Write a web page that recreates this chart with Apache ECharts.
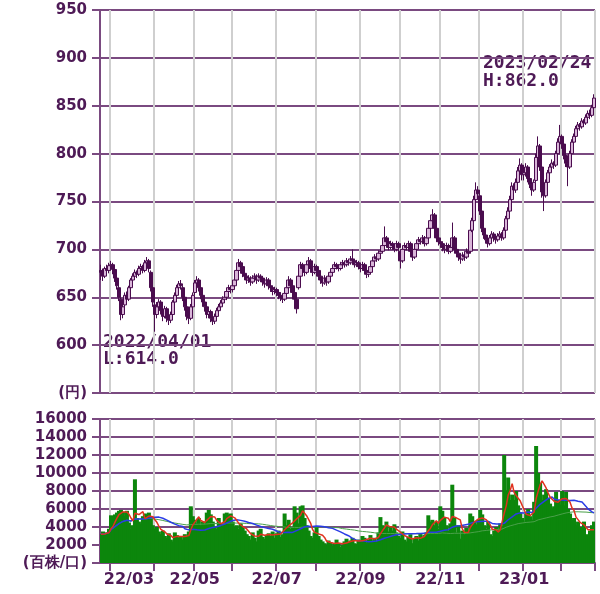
<!DOCTYPE html>
<html><head><meta charset="utf-8">
<script src="https://cdn.jsdelivr.net/npm/echarts@6/dist/echarts.min.js"></script>
<style>html,body{margin:0;padding:0;background:#fff}#c{width:600px;height:594px}</style>
</head><body><div id="c"></div>
<script>
// Trading calendar (Tokyo), 2022/02/21 - 2023/02/24
const startDate = [2022, 2, 21];
const endDate = [2023, 2, 24];
const holidays = ['2022/02/23','2022/03/21','2022/04/29','2022/05/03','2022/05/04','2022/05/05','2022/07/18','2022/08/11','2022/09/19','2022/09/23','2022/10/10','2022/11/03','2022/11/23','2023/01/02','2023/01/03','2023/01/09','2023/02/23'];

// Daily candles: [open, close, low, high] (円)
const ohlc = [
[678,676,668,684],[676,672,667,680],[672,680,670,682],[680,678,674,684],[678,683,675,686],
[683,684,678,688],[684,679,674,686],[679,670,666,681],[670,662,658,672],[660,650,646,664],
[648,632,626,650],[632,640,628,644],[642,652,638,655],[652,648,644,656],[648,660,646,662],
[660,668,657,670],[668,672,664,675],[672,676,669,679],[676,674,670,678],[674,680,672,683],
[680,682,677,685],[682,678,675,684],[678,686,676,689],[686,688,682,692],[688,680,676,690],
[676,660,656,678],[660,645,640,662],[642,632,614,646],[632,640,628,645],[640,645,636,648],
[645,636,632,647],[636,630,625,638],[630,638,628,641],[638,628,624,640],[628,626,621,632],
[626,632,623,635],[632,645,630,647],[645,652,642,655],[652,660,649,663],[660,664,656,667],
[664,662,658,668],[660,650,646,662],[650,640,636,652],[640,630,626,642],[630,628,622,634],
[628,640,626,643],[640,652,638,655],[655,665,652,668],[665,668,661,672],[668,660,656,670],
[660,652,648,662],[652,645,640,654],[645,640,635,648],[640,632,628,642],[632,635,628,638],
[635,628,624,637],[628,625,621,631],[625,630,622,633],[630,636,628,639],[636,640,633,643],
[640,644,637,647],[644,648,641,651],[648,650,645,654],[650,656,647,659],[656,660,652,663],
[660,658,654,662],[658,662,655,665],[662,668,659,671],[668,678,666,681],[678,686,675,690],
[686,682,678,688],[682,675,671,684],[675,672,668,677],[672,668,664,674],[668,670,665,673],
[670,666,662,672],[666,670,664,673],[670,672,667,675],[672,668,664,674],[668,672,666,675],
[672,670,666,674],[670,666,662,672],[666,664,660,668],[664,668,662,671],[668,662,658,670],
[662,660,656,664],[660,656,652,662],[656,658,653,661],[658,655,651,660],[655,652,648,657],
[652,650,646,655],[650,648,644,652],[648,654,646,657],[654,660,652,663],[660,668,658,672],
[668,662,658,670],[662,655,651,664],[655,648,644,657],[648,638,633,650],[660,672,658,675],
[672,684,670,687],[684,680,676,686],[680,676,672,682],[676,684,674,687],[684,688,681,692],
[688,680,676,690],[680,676,672,682],[676,682,674,685],[682,678,674,684],[678,672,668,680],
[672,668,664,674],[668,665,661,670],[665,670,663,673],[670,666,662,672],[666,672,664,675],
[672,676,670,679],[676,680,674,683],[680,684,678,687],[684,682,679,686],[682,680,677,684],
[680,684,678,687],[684,686,681,689],[686,684,681,688],[684,688,682,691],[688,686,683,690],
[686,690,684,693],[690,688,685,700],[688,684,681,690],[684,686,682,689],[686,682,679,688],
[682,680,676,684],[680,684,678,687],[684,678,675,686],[678,674,670,680],[674,676,671,679],
[676,682,674,685],[682,688,680,691],[688,692,686,695],[692,690,687,694],[690,696,688,699],
[696,698,694,701],[698,704,696,708],[704,712,702,724],[712,708,704,714],[708,702,699,710],
[702,706,700,709],[706,704,700,708],[704,700,697,706],[700,706,698,709],[706,702,698,708],
[698,688,680,700],[688,700,686,703],[700,704,698,707],[704,702,699,706],[702,706,700,709],
[706,698,695,708],[698,692,688,700],[692,700,690,703],[700,706,698,709],[706,710,704,713],
[710,708,705,712],[708,712,706,715],[712,706,703,714],[706,712,704,715],[712,722,710,725],
[722,730,720,734],[730,736,727,742],[736,722,719,738],[722,712,708,724],[712,708,704,714],
[708,706,702,710],[706,702,698,708],[702,700,696,704],[700,704,698,707],[704,698,695,706],
[698,702,696,705],[702,712,700,728],[712,700,696,714],[700,696,692,702],[696,692,688,698],
[692,690,685,694],[690,694,688,697],[694,692,688,696],[692,698,690,701],[698,696,692,700],
[698,720,696,722],[720,730,718,733],[730,752,728,756],[752,762,748,770],[762,758,752,766],
[756,740,736,760],[740,722,718,742],[722,715,711,724],[715,710,706,717],[710,706,702,712],
[706,712,704,715],[712,716,709,719],[716,712,708,718],[712,710,706,714],[710,714,708,717],
[714,716,711,719],[716,712,709,718],[712,720,710,723],[720,732,718,735],[732,740,729,744],
[740,752,738,756],[752,766,750,770],[766,762,757,769],[762,770,759,774],[770,782,768,786],
[782,788,778,795],[788,778,772,790],[778,780,772,784],[780,786,776,790],[786,774,770,788],
[774,768,764,776],[768,762,756,770],[762,770,760,773],[772,796,770,800],[796,808,792,818],
[808,786,782,810],[786,760,754,788],[760,756,740,762],[756,770,754,773],[770,780,768,783],
[780,786,778,789],[786,790,783,794],[790,788,784,792],[788,800,786,803],[800,812,798,816],
[812,818,808,830],[818,810,805,820],[810,798,794,812],[798,790,786,800],[790,786,766,792],
[786,800,784,803],[800,812,798,815],[812,818,810,821],[818,826,815,829],[826,830,822,833],
[830,828,824,832],[828,834,826,837],[834,832,828,836],[832,838,830,841],[838,842,835,845],
[842,840,836,846],[840,848,838,851],[848,858,846,862]
];

// Daily volume (百株)
const volume = [
3200,3500,3000,3400,3800, 5300,4800,5400, 5600,5800,5900,5700,5200,5800, 4500,3800,4200, 9300,
5000,4600,4400,5200, 5500,5400,5600,5000, 4200,3800,4000,3500,3200,3600,
3000,2800,3300,2600,2400,3400,3100, 2800,3000,2600,3200,2900,3500, 6300,5200,4800,
4400,5000,4200,4600,4300, 5600,5900,5400, 4600,4000,3800,5000,4400,4200,
5500,5600,5400,5500,4600, 4000,4200,3800,4400,3900,3600,
3200,3000,2600,3400,2800,2400,3600,3800,2900,2700,3100,3300,
3000,3500,2800,3300,3600,2900,3200, 5500,4200,4800, 3800,4000, 6300,5600, 4400,
6300,6400,5000, 4200,3600,3000,2800,3400, 4000,
3000,2600,2400,2200,2000,2500,2300,1900,2100,2600,2200,1800,2000,2400,2700,
2300,2500,2800,2200,2100,2600,
2400,3000,2800,2300,2600,3100,2500,2800,2400,3400, 5100,
4200,3800,4600,3500,4000,3600,4300,3400,
3000,2800,3500,2600,2400,2900,3200,2200,2700,3000,2500,3300,2800,3100,3400,
5300,4600,4800,4200, 4600,3800, 6300,5800,5000, 4200,3600, 4400,8700,5000,
3400,4200,2700,3600,3200,3900,3500, 5500,5200,4600, 4300,4800, 5900,5400,4200,
3800,4600,3200,3000,3600,4000,3400,4400,3800,
12000,8000, 9500,7000,7600, 7000,8000,6400,5600,5000,
4600,5500,6000,5200,4800, 6800, 13000, 10000, 8900,7000,7600, 8200,7200,6600,6000,
6300,7900,7000,6500,8000,6400,7900,6000, 5500,4800,5000,4200,4600,4000,
3800,4600,3200,2900,3600,4200,4600
];

const priceTicks = { min: 550, max: 950, step: 50 };
const volTicks = { min: 0, max: 16000, step: 2000 };
const labeledMonths = [1, 3, 5, 7, 9, 11];
const annHigh = ['2023/02/24', 'H:862.0'];
const annLow = ['2022/04/01', 'L:614.0'];

function pad(n){return (n<10?'0':'')+n;}
const dates = [];
(function(){
  const d = new Date(startDate[0], startDate[1]-1, startDate[2]);
  const e = new Date(endDate[0], endDate[1]-1, endDate[2]);
  while (d <= e) {
    const s = d.getFullYear()+'/'+pad(d.getMonth()+1)+'/'+pad(d.getDate());
    const wd = d.getDay();
    if (wd !== 0 && wd !== 6 && holidays.indexOf(s) < 0) dates.push(s);
    d.setDate(d.getDate()+1);
  }
})();

function isMonthStart(i){ return i > 0 && dates[i] && dates[i-1] && dates[i].slice(5,7) !== dates[i-1].slice(5,7); }
function ma(arr, n){
  return arr.map(function(v, i){
    const s = Math.max(0, i-n+1); let t = 0;
    for (let k=s;k<=i;k++) t += arr[k];
    return Math.round(t/(i-s+1));
  });
}

const PURPLE = '#7a4a80';
const TXT = '#4e1a56';
const GRAY = '#cfcfcf';
const FONT = {color: TXT, fontFamily: 'DejaVu Sans', fontWeight: 'bold', fontSize: 15};

const chart = echarts.init(document.getElementById('c'), null, {renderer: 'canvas'});
chart.setOption({
  animation: false,
  backgroundColor: '#fff',
  grid: [
    {left: 100, right: 5, top: 10, height: 383, show: true, borderColor: PURPLE, borderWidth: 1},
    {left: 100, right: 5, top: 419, height: 144, show: true, borderColor: PURPLE, borderWidth: 1}
  ],
  xAxis: [
    {type: 'category', gridIndex: 0, data: dates, boundaryGap: true,
     axisLine: {show: false}, axisTick: {show: false}, axisLabel: {show: false},
     splitLine: {show: true, interval: function(i){return isMonthStart(i);}, lineStyle: {color: GRAY, width: 2}}},
    {type: 'category', gridIndex: 1, data: dates, boundaryGap: true,
     axisLine: {show: true, lineStyle: {color: PURPLE, width: 2}},
     axisTick: {show: true, interval: function(i){return isMonthStart(i);}, length: 8, lineStyle: {color: PURPLE, width: 2}},
     axisLabel: Object.assign({}, FONT, {
       fontSize: 16, margin: 9,
       interval: function(i){ return isMonthStart(i) && labeledMonths.indexOf(+dates[i].slice(5,7)) >= 0; },
       formatter: function(v){
         const s = v.slice(2,4)+'/'+v.slice(5,7);
         if (v.slice(0,7) === '2022/03') return '{f|'+s+'}';
         return s;
       },
       rich: {f: Object.assign({}, FONT, {fontSize: 16, padding: [0,0,0,36]})}
     }),
     splitLine: {show: true, interval: function(i){return isMonthStart(i);}, lineStyle: {color: GRAY, width: 2}}}
  ],
  yAxis: [
    {type: 'value', gridIndex: 0, min: priceTicks.min, max: priceTicks.max, interval: priceTicks.step,
     axisLine: {show: true, lineStyle: {color: PURPLE, width: 2}},
     axisTick: {show: true, length: 8, lineStyle: {color: PURPLE, width: 2}},
     axisLabel: Object.assign({}, FONT, {margin: 13, formatter: function(v){ return v === priceTicks.min ? '(円)' : String(v); }}),
     splitLine: {show: true, lineStyle: {color: PURPLE, width: 2}}},
    {type: 'value', gridIndex: 1, min: volTicks.min, max: volTicks.max, interval: volTicks.step,
     axisLine: {show: true, lineStyle: {color: PURPLE, width: 2}},
     axisTick: {show: true, length: 8, lineStyle: {color: PURPLE, width: 2}},
     axisLabel: Object.assign({}, FONT, {margin: 13, formatter: function(v){ return v === volTicks.min ? '(百株/口)' : String(v); }}),
     splitLine: {show: true, lineStyle: {color: PURPLE, width: 2}}}
  ],
  series: [
    {type: 'bar', xAxisIndex: 1, yAxisIndex: 1, data: volume, barWidth: 4,
     itemStyle: {color: '#0c860c', borderWidth: 0}},
    {type: 'line', xAxisIndex: 1, yAxisIndex: 1, data: ma(volume, 75), showSymbol: false, silent: true,
     lineStyle: {color: '#4aa04a', width: 1}},
    {type: 'line', xAxisIndex: 1, yAxisIndex: 1, data: ma(volume, 25), showSymbol: false, silent: true,
     lineStyle: {color: '#2a3ce6', width: 1.5}},
    {type: 'line', xAxisIndex: 1, yAxisIndex: 1, data: ma(volume, 5), showSymbol: false, silent: true,
     lineStyle: {color: '#e0321e', width: 1.5}},
    {type: 'candlestick', xAxisIndex: 0, yAxisIndex: 0, data: ohlc, barWidth: 4,
     itemStyle: {color: '#d9b6d9', color0: '#4a0c4e', borderColor: '#4a0c4e', borderColor0: '#4a0c4e', borderWidth: 1}}
  ],
  graphic: [
    {type: 'text', left: 483, top: 54, style: {text: annHigh.join('\n'), fill: TXT, font: 'bold 18px "DejaVu Sans Mono"', lineHeight: 18}},
    {type: 'text', left: 103, top: 333, style: {text: annLow.join('\n'), fill: TXT, font: 'bold 18px "DejaVu Sans Mono"', lineHeight: 17}}
  ]
});
</script>
</body></html>
